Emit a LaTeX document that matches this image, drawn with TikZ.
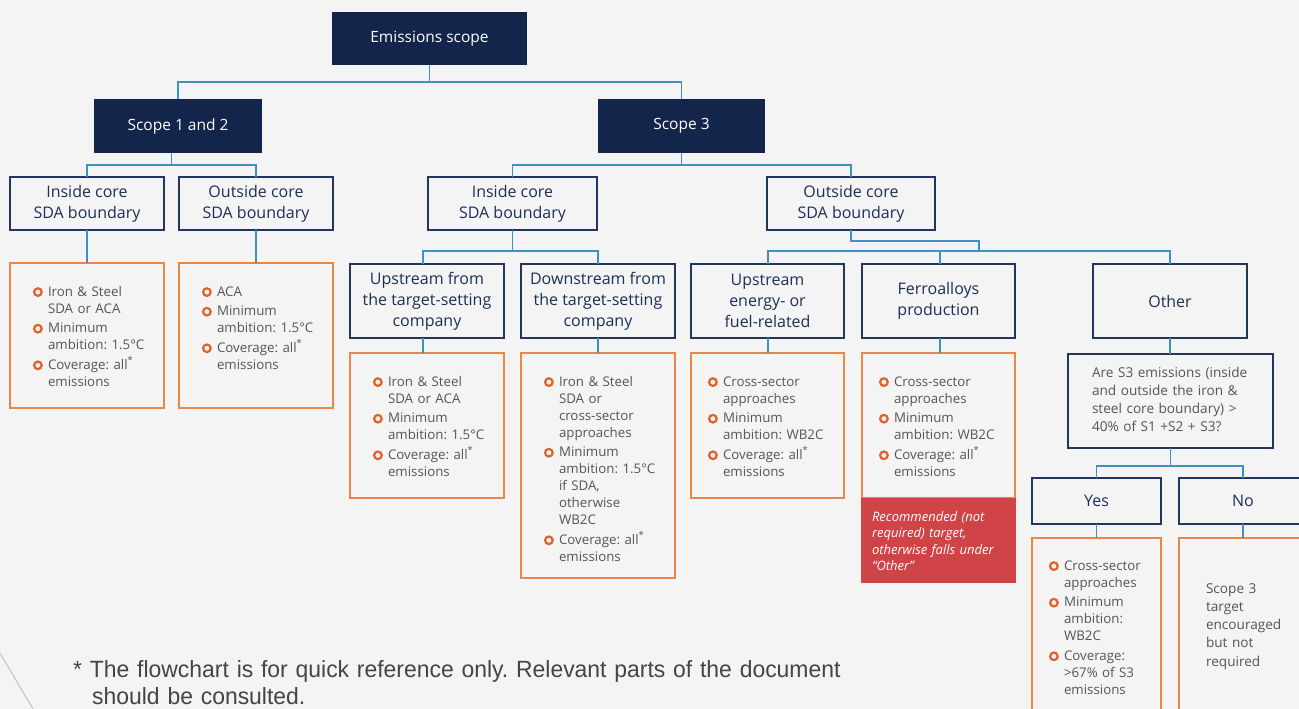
\documentclass[tikz,border=0pt]{standalone}
\usepackage{fontspec}
\setmainfont{Open Sans}
\newfontfamily\footfont[FakeStretch=0.975]{Liberation Sans}
\usetikzlibrary{calc}
\definecolor{bg}{HTML}{F4F4F4}
\definecolor{navy}{HTML}{13254A}
\definecolor{bordnavy}{HTML}{24365E}
\definecolor{navytext}{HTML}{1C2F55}
\definecolor{connc}{HTML}{3E92C2}
\definecolor{orng}{HTML}{E8874A}
\definecolor{ringc}{HTML}{E0622A}
\definecolor{redb}{HTML}{D04448}
\definecolor{txtgray}{HTML}{555555}
\definecolor{footgray}{HTML}{444444}
\definecolor{faint}{HTML}{BBBBBB}
\frenchspacing
\newcommand{\ringmark}{\tikz[baseline=-3.9pt]\draw[ringc,line width=2.2pt] (0pt,0pt) circle (3.8pt);}
\newcommand{\itm}[1]{\noindent\hangindent=16pt\hangafter=1\makebox[16pt][l]{\hspace{1pt}\ringmark}#1\par}
\tikzset{
  navybox/.style={fill=navy, draw=none, text=white, font=\fontsize{15.5}{18}\selectfont, outer sep=0pt, inner sep=0pt},
  wbox/.style={draw=bordnavy, line width=1.4pt, text=navytext, align=center, font=\fontsize{16}{21}\selectfont, outer sep=0pt, inner sep=0pt},
  obox/.style={draw=orng, line width=1.4pt, outer sep=0pt, inner sep=0pt},
  redbox/.style={fill=redb, draw=none, outer sep=0pt, inner sep=0pt},
  conn/.style={draw=connc, line width=1.5pt},
  listtxt/.style={anchor=base west, inner sep=0pt, outer sep=0pt, text width=125pt, align=left, text=txtgray,
    font=\fontsize{13.3}{17}\selectfont, execute at begin node={\setlength{\parskip}{2.6pt}\frenchspacing}},
  plaintxt/.style={anchor=base west, inner sep=0pt, outer sep=0pt, text width=200pt, align=left, text=txtgray,
    font=\fontsize{13.6}{18.3}\selectfont},
}
\begin{document}
\begin{tikzpicture}[x=1pt,y=-1pt]
\fill[bg] (0,0) rectangle (1299,709);
\useasboundingbox (0,0) rectangle (1299,709);
\clip (0,0) rectangle (1299,709);
\draw[faint, line width=0.8pt] (0,653) -- (33,709);

% level 1
\node[navybox, minimum width=195pt, minimum height=53pt] (es) at (429.5,38.5) {Emissions scope};
\node[navybox, minimum width=168pt, minimum height=54pt] (s12) at (178,126) {Scope 1 and 2};
\node[navybox, minimum width=167pt, minimum height=54pt] (s3) at (681.5,126) {Scope 3};

% level 2
\node[wbox, minimum width=154pt, minimum height=53pt] (in1) at (87,203.5) {Inside core\\SDA boundary};
\node[wbox, minimum width=154pt, minimum height=53pt] (out1) at (256,203.5) {Outside core\\SDA boundary};
\node[wbox, minimum width=169pt, minimum height=53pt] (in3) at (512.5,203.5) {Inside core\\SDA boundary};
\node[wbox, minimum width=168pt, minimum height=53pt] (out3) at (851,203.5) {Outside core\\SDA boundary};

% level 3
\node[wbox, minimum width=154pt, minimum height=74pt] (up) at (427,301) {Upstream from\\the target-setting\\company};
\node[wbox, minimum width=154pt, minimum height=74pt] (dn) at (598,301) {Downstream from\\the target-setting\\company};
\node[wbox, minimum width=153pt, minimum height=74pt] (ue) at (767.5,301) {Upstream\\energy- or\\fuel-related};
\node[wbox, minimum width=153pt, minimum height=74pt] (fa) at (938.5,301) {Ferroalloys\\production};
\node[wbox, minimum width=154pt, minimum height=74pt] (ot) at (1170,301) {Other};

% orange boxes
\node[obox, minimum width=154pt, minimum height=145pt] (o1) at (87,335.5) {};
\node[obox, minimum width=154pt, minimum height=145pt] (o2) at (256,335.5) {};
\node[obox, minimum width=154pt, minimum height=145pt] (oup) at (427,425.5) {};
\node[obox, minimum width=154pt, minimum height=225pt] (odn) at (598,465.5) {};
\node[obox, minimum width=153pt, minimum height=145pt] (oue) at (767.5,425.5) {};
\node[obox, minimum width=153pt, minimum height=145pt] (ofa) at (938.5,425.5) {};
\node[redbox, minimum width=154.4pt, minimum height=85pt] (rb) at (938.5,540.5) {};

% question, yes, no
\node[wbox, minimum width=205pt, minimum height=94pt] (q) at (1170.5,401) {};
\node[wbox, minimum width=129pt, minimum height=46pt] (yes) at (1096.5,501) {Yes};
\node[wbox, minimum width=128pt, minimum height=46pt] (no) at (1243,501) {No};
\node[obox, minimum width=129pt, minimum height=200pt] (oyes) at (1096.5,638) {};
\node[obox, minimum width=128pt, minimum height=200pt] (ono) at (1243,638) {};

% connectors
\draw[conn] (es.south) -- (es.south |- 0,82) -| (s12.north);
\draw[conn] (es.south |- 0,82) -| (s3.north);
\coordinate (s12m) at ($(in1.north)!0.5!(out1.north)$);
\draw[conn] (s12m |- s12.south) -- (s12m |- 0,165) -| (in1.north);
\draw[conn] (s12m |- 0,165) -| (out1.north);
\draw[conn] (s3.south) -- (s3.south |- 0,165) -| (in3.north);
\draw[conn] (s3.south |- 0,165) -| (out3.north);
\draw[conn] (in1.south) -- (o1.north);
\draw[conn] (out1.south) -- (o2.north);
\coordinate (upc) at ([xshift=-4pt]up.north);
\draw[conn] (in3.south) -- (in3.south |- 0,251) -| (upc);
\draw[conn] (in3.south |- 0,251) -| (dn.north);
\coordinate (jog) at (979,241);
\draw[conn] (out3.south) |- (jog) -- (jog |- 0,251);
\coordinate (uec) at ([xshift=0.5pt]ue.north);
\coordinate (fac) at ([xshift=1.5pt]fa.north);
\draw[conn] (uec) |- (ot.north |- 0,251) -- (ot.north);
\draw[conn] (fac) -- (fac |- 0,251);
\draw[conn] (upc |- up.south) -- (upc |- oup.north);
\draw[conn] (dn.south) -- (odn.north);
\draw[conn] (uec |- ue.south) -- (uec |- oue.north);
\draw[conn] (fac |- fa.south) -- (fac |- ofa.north);
\draw[conn] (ot.south) -- (ot.south |- q.north);
\draw[conn] (q.south) -- (q.south |- 0,466) -| (yes.north);
\draw[conn] (q.south |- 0,466) -| (no.north);
\draw[conn] (yes.south) -- (oyes.north);
\draw[conn] (no.south) -- (ono.north);

% lists
\node[listtxt] (t1) at (32,296) {\itm{Iron \& Steel\newline SDA or ACA}\itm{Minimum\newline ambition: 1.5°C}\itm{Coverage: all\textsuperscript{*}\newline emissions}};
\node[listtxt] (t2) at (201,296) {\itm{ACA}\itm{Minimum\newline ambition: 1.5°C}\itm{Coverage: all\textsuperscript{*}\newline emissions}};
\node[listtxt] (t3) at (372,386) {\itm{Iron \& Steel\newline SDA or ACA}\itm{Minimum\newline ambition: 1.5°C}\itm{Coverage: all\textsuperscript{*}\newline emissions}};
\node[listtxt] (t4) at (543,386) {\itm{Iron \& Steel\newline SDA or\newline cross-sector\newline approaches}\itm{Minimum\newline ambition: 1.5°C\newline if SDA,\newline otherwise\newline WB2C}\itm{Coverage: all\textsuperscript{*}\newline emissions}};
\node[listtxt] (t5) at (707,386) {\itm{Cross-sector\newline approaches}\itm{Minimum\newline ambition: WB2C}\itm{Coverage: all\textsuperscript{*}\newline emissions}};
\node[listtxt] (t6) at (878,386) {\itm{Cross-sector\newline approaches}\itm{Minimum\newline ambition: WB2C}\itm{Coverage: all\textsuperscript{*}\newline emissions}};
\node[listtxt] (t7) at (1048,570) {\itm{Cross-sector\newline approaches}\itm{Minimum\newline ambition:\newline WB2C}\itm{Coverage:\newline >67\% of S3\newline emissions}};

\node[plaintxt, text=white, font=\fontsize{13}{16.5}\selectfont\itshape] (rt) at (872,521) {Recommended (not\\required) target,\\otherwise falls under\\“Other”};
\node[plaintxt] (qt) at (1092,377) {Are S3 emissions (inside\\and outside the iron \&\\steel core boundary) >\\40\% of S1 +S2 + S3?};
\node[plaintxt] (nt) at (1206,593) {Scope 3\\target\\encouraged\\but not\\required};

% footnote
\node[anchor=base west, inner sep=0pt, text width=860pt, align=left, text=footgray, font=\footfont\fontsize{23.5}{27.5}\selectfont] (fn) at (73,677)
  {\hangindent=19pt\hangafter=1 * The flowchart is for quick reference only. Relevant parts of the document\newline should be consulted.\par};
\end{tikzpicture}
\end{document}
